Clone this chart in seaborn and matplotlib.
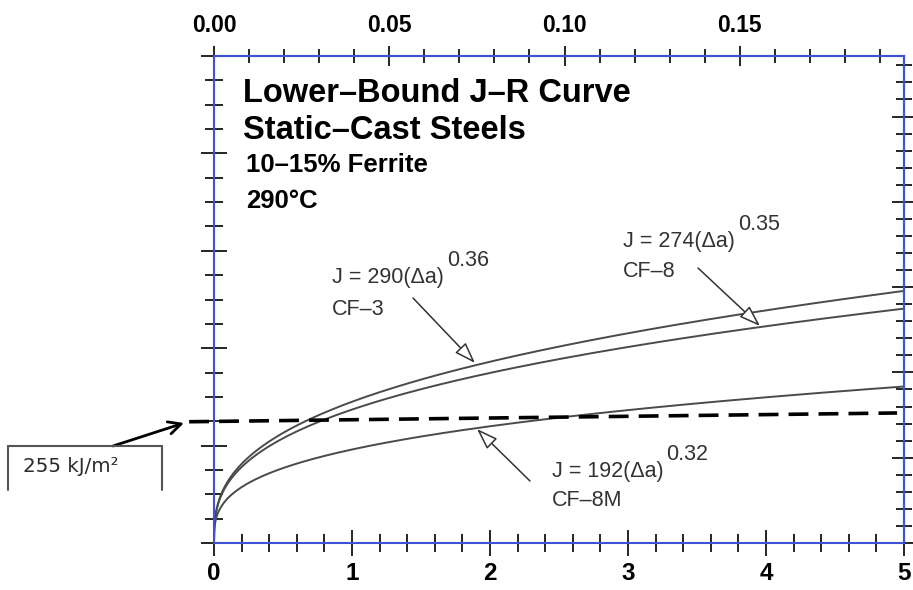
import numpy as np
import pandas as pd
import matplotlib
matplotlib.use("Agg")
import matplotlib.pyplot as plt
import seaborn as sns
from matplotlib.ticker import MultipleLocator, FixedLocator, FixedFormatter, NullFormatter
from matplotlib.lines import Line2D

# ---------------- data ----------------
materials = ["CF-3", "CF-8", "CF-8M"]
coef_C = [290, 274, 192]          # J = C (Δa)^n, kJ/m², Δa in mm
exp_n = [0.36, 0.35, 0.32]
delta_a = np.concatenate([np.linspace(0, 0.1, 201), np.linspace(0.1, 5.0, 300)[1:]])

dash_da = [-0.18, 4.95]           # dashed line (mm)
dash_J = [249, 267]               # kJ/m²

x_ticks = [0, 1, 2, 3, 4, 5]
top_ticks = [0.00, 0.05, 0.10, 0.15]
top_labels = ["0.00", "0.05", "0.10", "0.15"]

rows = []
for m, C, n in zip(materials, coef_C, exp_n):
    for d in delta_a:
        rows.append({"da": d, "J": C * d ** n, "material": m})
df = pd.DataFrame(rows)

# ---------------- style ----------------
sns.set_style("white")
plt.rcParams["font.family"] = ["Liberation Sans", "DejaVu Sans"]
plt.rcParams["text.color"] = "black"
plt.rcParams["xtick.color"] = "black"
plt.rcParams["ytick.color"] = "black"

W, H = 913, 590
fig = plt.figure(figsize=(W / 100, H / 100), dpi=100)
L, R, T, B = 214, 904, 56, 543
ax = fig.add_axes([L / W, 1 - B / H, (R - L) / W, (B - T) / H])


def fp(x, y):
    return x / W, 1 - y / H


BLUE = "#3d52d5"
CURVE = "#4a4a4a"

sns.lineplot(data=df, x="da", y="J", hue="material", palette=[CURVE] * 3,
             linewidth=1.4, legend=False, ax=ax, estimator=None, sort=False)
ax.plot(dash_da, dash_J, color="black", lw=2.6, dashes=(5.5, 2.8), clip_on=False)

ax.set_xlim(0, 5)
ax.set_ylim(0, 1000)
ax.set_xlabel("")
ax.set_ylabel("")

ax.xaxis.set_major_locator(FixedLocator(x_ticks))
ax.xaxis.set_minor_locator(MultipleLocator(0.2))
ax.yaxis.set_major_locator(MultipleLocator(200))
ax.yaxis.set_minor_locator(MultipleLocator(50))
ax.yaxis.set_major_formatter(NullFormatter())

ax.tick_params(which="major", direction="inout", length=19, width=1.2, color="black",
               labelcolor="black", bottom=True, left=True, top=False, right=False, pad=4)
ax.tick_params(which="minor", direction="inout", length=13, width=1.2, color="black",
               bottom=True, left=True, top=False, right=False)
for lab in ax.get_xticklabels():
    lab.set_fontweight("bold")
    lab.set_fontsize(17.5)

for s in ax.spines.values():
    s.set_color(BLUE)
    s.set_linewidth(1.5)
    s.set_visible(True)

# top axis in inches
top = ax.secondary_xaxis("top", functions=(lambda x: x / 25.4, lambda x: x * 25.4))
top.xaxis.set_major_locator(FixedLocator(top_ticks))
top.xaxis.set_major_formatter(FixedFormatter(top_labels))
top.xaxis.set_minor_locator(MultipleLocator(0.01))
top.tick_params(which="major", direction="inout", length=14, width=1.2, color="black",
                labelcolor="black", pad=7)
top.tick_params(which="minor", direction="inout", length=10, width=1.2, color="black")
for lab in top.get_xticklabels():
    lab.set_fontweight("bold")
    lab.set_fontsize(16.5)
for s in top.spines.values():
    s.set_color(BLUE)
    s.set_linewidth(1.5)

# right axis in in-lb/in²
right = ax.secondary_yaxis("right", functions=(lambda y: y * 5.71, lambda y: y / 5.71))
right.yaxis.set_major_locator(MultipleLocator(1000))
right.yaxis.set_minor_locator(MultipleLocator(200))
right.yaxis.set_major_formatter(NullFormatter())
right.tick_params(which="major", direction="inout", length=18, width=1.2, color="black")
right.tick_params(which="minor", direction="inout", length=12, width=1.2, color="black")
for s in right.spines.values():
    s.set_color(BLUE)
    s.set_linewidth(1.5)

# ---------------- titles ----------------
fig.text(*fp(243, 102), "Lower–Bound J–R Curve", fontsize=23.5, fontweight="bold",
         va="baseline", color="black")
fig.text(*fp(243, 139), "Static–Cast Steels", fontsize=23.5, fontweight="bold",
         va="baseline", color="black")
fig.text(*fp(246, 172), "10–15% Ferrite", fontsize=18.5, fontweight="bold",
         va="baseline", color="black")
fig.text(*fp(246, 208), "290°C", fontsize=18.5, fontweight="bold", va="baseline",
         color="black")

TXT = "#333333"
fs = 15.5
labels = [((332, 283), "J = 290(Δa)", "0.36", (332, 315), "CF–3"),
          ((623, 247), "J = 274(Δa)", "0.35", (623, 277), "CF–8"),
          ((552, 477), "J = 192(Δa)", "0.32", (552, 506), "CF–8M")]
for (mx, my), main, sup, (cx, cy), name in labels:
    t = fig.text(*fp(mx, my), main, fontsize=fs, color=TXT, va="baseline")
    ax.annotate(sup, xy=(1, 0), xycoords=t, xytext=(2, 12), textcoords="offset points",
                fontsize=fs, color=TXT, va="bottom", ha="left")
    fig.text(*fp(cx, cy), name, fontsize=fs, color=TXT, va="baseline")

hollow = dict(arrowstyle="-|>,head_length=1.3,head_width=0.45", fc="white", ec="#333333",
              lw=1.1, shrinkA=0, shrinkB=0)
for (x0, y0), (x1, y1) in [((413, 298), (475, 363)),
                           ((698, 268), (760, 326)),
                           ((530, 481), (477, 429))]:
    ax.annotate("", xy=fp(x1, y1), xytext=fp(x0, y0), xycoords="figure fraction",
                textcoords="figure fraction", arrowprops=hollow)

# ---------------- 255 kJ/m² box ----------------
bx0, bx1, by0, by1 = 8, 162, 446, 490
for xs, ys in [([bx0, bx0], [by1, by0]), ([bx0, bx1], [by0, by0]), ([bx1, bx1], [by0, by1])]:
    fig.add_artist(Line2D([x / W for x in xs], [1 - y / H for y in ys],
                          transform=fig.transFigure, color="#555555", lw=1.5))
fig.text(*fp(23, 472), "255 kJ/m²", fontsize=14.3, color="#2a2a2a", va="baseline",
         family=["DejaVu Sans"])
ax.annotate("", xy=fp(184, 423), xytext=fp(113, 446), xycoords="figure fraction",
            textcoords="figure fraction",
            arrowprops=dict(arrowstyle="->,head_length=0.9,head_width=0.45", color="black",
                            lw=2, shrinkA=0, shrinkB=0))

fig.savefig("out.png", dpi=100)
